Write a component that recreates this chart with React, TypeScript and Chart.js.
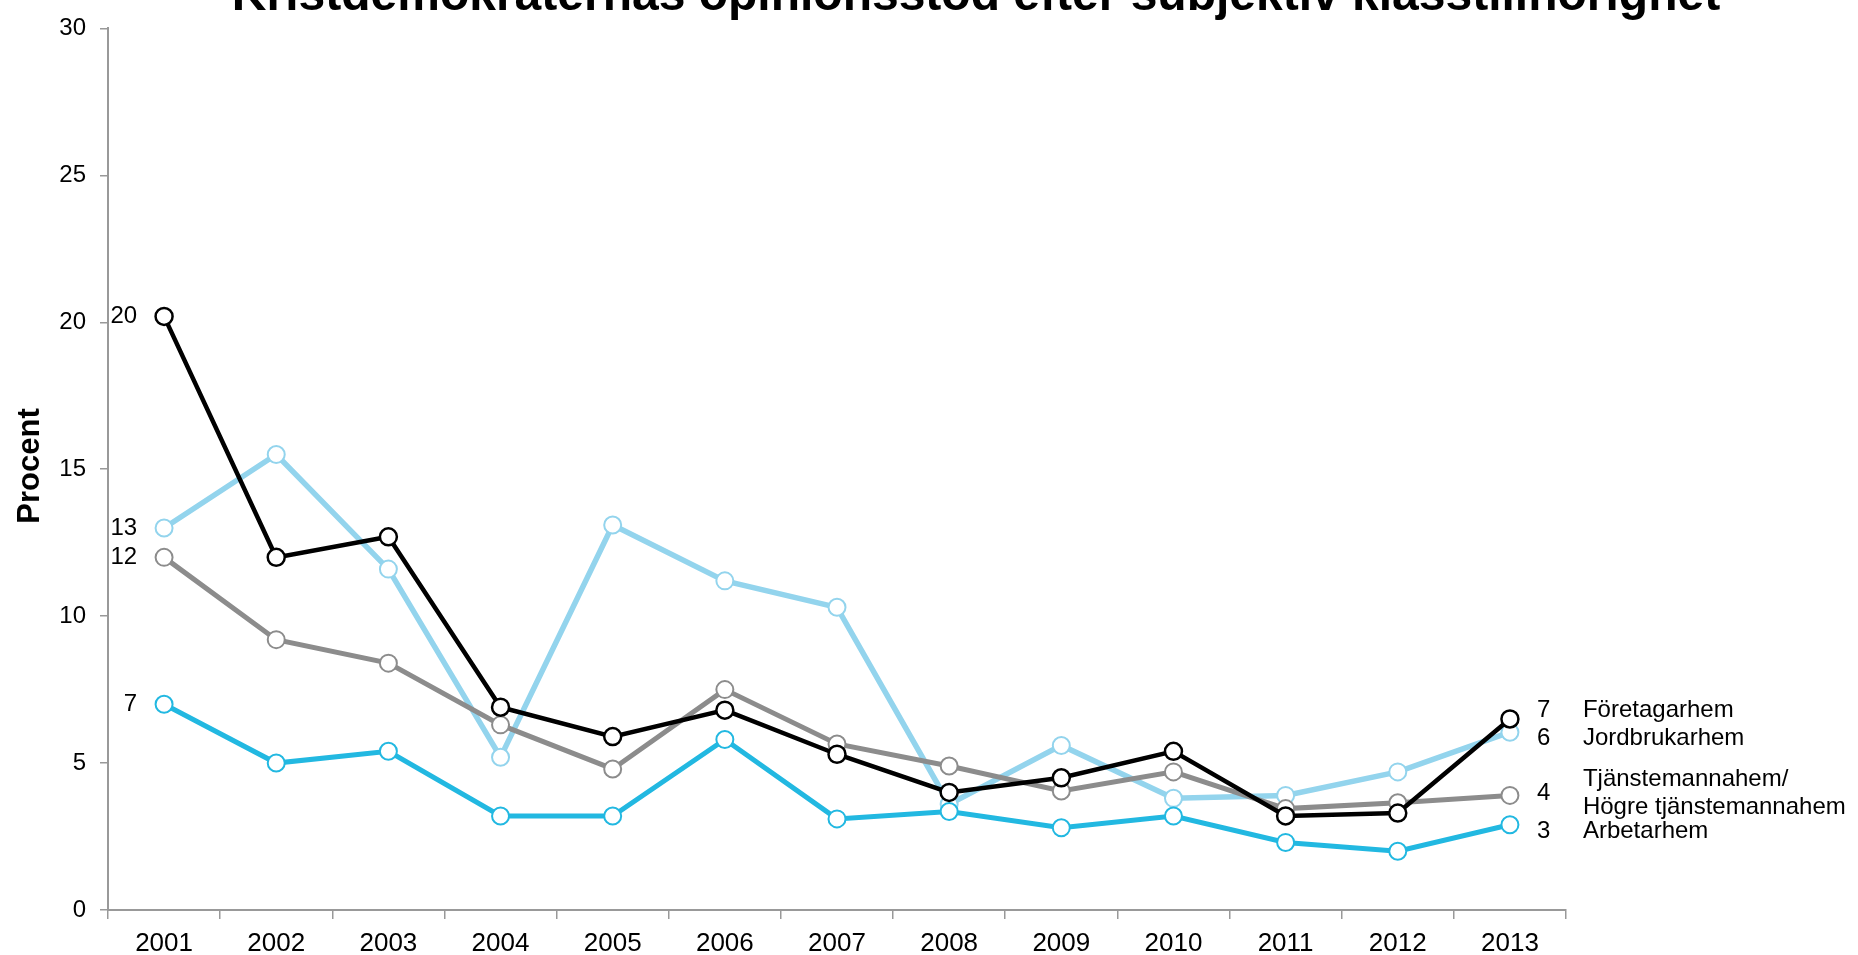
import React, { useEffect, useRef } from "react";
import { Chart, registerables } from "chart.js";

Chart.register(...registerables);

const years = ["2001", "2002", "2003", "2004", "2005", "2006", "2007", "2008", "2009", "2010", "2011", "2012", "2013"];
const foretagarhem = [20.2, 12.0, 12.7, 6.9, 5.9, 6.8, 5.3, 4.0, 4.5, 5.4, 3.2, 3.3, 6.5];
const jordbrukarhem = [13.0, 15.5, 11.6, 5.2, 13.1, 11.2, 10.3, 3.6, 5.6, 3.8, 3.9, 4.7, 6.05];
const tjanstemannahem = [12.0, 9.2, 8.4, 6.3, 4.8, 7.5, 5.65, 4.9, 4.05, 4.7, 3.45, 3.65, 3.9];
const arbetarhem = [7.0, 5.0, 5.4, 3.2, 3.2, 5.8, 3.1, 3.35, 2.8, 3.2, 2.3, 2.0, 2.9];

const seriesNames = ["Företagarhem", "Jordbrukarhem", "Tjänstemannahem/\nHögre tjänstemannahem", "Arbetarhem"];
const startLabels = ["20", "13", "12", "7"];
const endLabels = ["7", "6", "4", "3"];
const yTicks = [0, 5, 10, 15, 20, 25, 30];

const titleText = "Kristdemokraternas opinionsstöd efter subjektiv klasstillhörighet";
const yTitle = "Procent";

// layout: vertical anchor (in axis units) of each end label, to avoid overlap
const endLabelAnchor = [6.8, 5.85, 3.98, 2.67];

const FONT = "'Liberation Sans', Arial, sans-serif";

const textPlugin = {
  id: "texts",
  afterDraw(chart: any) {
    const ctx = chart.ctx;
    const xs = chart.scales.x;
    const ys = chart.scales.y;
    ctx.save();
    ctx.fillStyle = "#000";
    ctx.font = `bold 48px ${FONT}`;
    ctx.textAlign = "center";
    ctx.textBaseline = "alphabetic";
    ctx.fillText(titleText, 976, 10);

    ctx.save();
    ctx.translate(30, 466);
    ctx.rotate(-Math.PI / 2);
    ctx.font = `bold 31px ${FONT}`;
    ctx.textAlign = "center";
    ctx.textBaseline = "middle";
    ctx.fillText(yTitle, 0, 0);
    ctx.restore();

    const series = [foretagarhem, jordbrukarhem, tjanstemannahem, arbetarhem];
    ctx.font = `24px ${FONT}`;
    ctx.textBaseline = "middle";
    const x0 = xs.getPixelForValue(0);
    ctx.textAlign = "right";
    series.forEach((s, i) => {
      ctx.fillText(startLabels[i], x0 - 27, ys.getPixelForValue(s[0]));
    });
    const xN = xs.getPixelForValue(years.length - 1);
    ctx.textAlign = "left";
    series.forEach((_s, i) => {
      const y = ys.getPixelForValue(endLabelAnchor[i]);
      ctx.fillText(endLabels[i], xN + 27, y);
      const lines = seriesNames[i].split("\n");
      const lh = 28;
      lines.forEach((ln, k) => {
        ctx.fillText(ln, xN + 73, y + (k - (lines.length - 1) / 2) * lh);
      });
    });
    ctx.restore();
  },
};

export default function App() {
  const ref = useRef<HTMLCanvasElement | null>(null);
  useEffect(() => {
    document.body.style.margin = "0";
    const c = ref.current!;
    const mk = (label: string, data: number[], color: string, lw: number, bw: number, r: number) => ({
      label,
      data,
      borderColor: color,
      backgroundColor: "#ffffff",
      borderWidth: lw,
      pointRadius: r,
      pointBorderWidth: bw,
      pointBorderColor: color,
      pointBackgroundColor: "#ffffff",
      tension: 0,
    });
    const chart = new Chart(c, {
      type: "line",
      data: {
        labels: years,
        datasets: [
          mk(seriesNames[0], foretagarhem, "#000000", 4.5, 2.5, 8.5),
          mk(seriesNames[2], tjanstemannahem, "#8c8c8c", 5, 2, 8.5),
          mk(seriesNames[3], arbetarhem, "#22b8e1", 5, 2, 8.5),
          mk(seriesNames[1], jordbrukarhem, "#93d4ed", 5.5, 2, 8.5),
        ],
      },
      options: {
        responsive: false,
        animation: false,
        layout: { padding: { top: 20, right: 292, left: 0, bottom: 0 } },
        plugins: {
          legend: { display: false },
          title: { display: false },
          tooltip: { enabled: false },
        },
        scales: {
          x: {
            type: "category",
            offset: true,
            afterFit: (s: any) => {
              s.height = 45;
            },
            grid: {
              offset: true,
              drawOnChartArea: false,
              drawTicks: true,
              tickLength: 9,
              color: "#999999",
              lineWidth: 1.5,
            },
            border: { display: true, color: "#999999", width: 2 },
            ticks: {
              color: "#000",
              font: { family: FONT, size: 26 },
              padding: 9,
              maxRotation: 0,
              autoSkip: false,
            },
          },
          y: {
            min: 0,
            max: 30,
            afterFit: (s: any) => {
              s.width = 108;
            },
            afterBuildTicks: (s: any) => {
              s.ticks = yTicks.map((v) => ({ value: v }));
            },
            grid: {
              drawOnChartArea: false,
              drawTicks: true,
              tickLength: 8,
              color: "#999999",
              lineWidth: 1.5,
            },
            border: { display: true, color: "#999999", width: 2 },
            ticks: {
              color: "#000",
              font: { family: FONT, size: 24 },
              padding: 14,
            },
          },
        },
      },
      plugins: [textPlugin],
    } as any);
    return () => chart.destroy();
  }, []);
  return (
    <div style={{ position: "absolute", left: 0, top: 0, width: 1858, height: 955 }}>
      <canvas ref={ref} width={1858} height={955} style={{ display: "block" }} />
    </div>
  );
}
